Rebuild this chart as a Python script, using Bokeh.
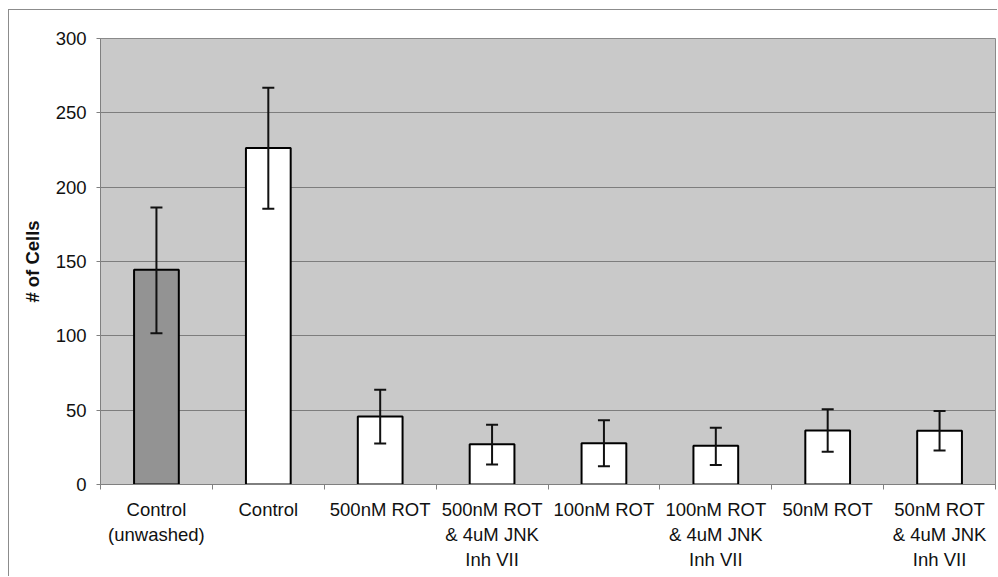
import numpy as np
from bokeh.plotting import figure
from bokeh.models import ColumnDataSource, Whisker, FixedTicker, TeeHead, Range1d
from bokeh.embed import file_html
from bokeh.resources import INLINE

categories = ["Control\n(unwashed)", "Control", "500nM ROT",
              "500nM ROT\n& 4uM JNK\nInh VII", "100nM ROT",
              "100nM ROT\n& 4uM JNK\nInh VII", "50nM ROT",
              "50nM ROT\n& 4uM JNK\nInh VII"]
cells = [144.5, 226.3, 45.8, 27.0, 27.8, 26.0, 36.4, 36.1]
err_upper = [186.3, 266.8, 63.8, 40.2, 43.2, 38.2, 50.6, 49.5]
err_lower = [101.8, 185.4, 27.6, 13.4, 12.3, 13.1, 22.1, 22.8]
bar_colors = ["#939393"] + ["#ffffff"] * 7
y_ticks = [0, 50, 100, 150, 200, 250, 300]

n = len(categories)
centers = [float(i) + 0.5 for i in range(n)]
bounds = [float(i) for i in range(n + 1)]

src = ColumnDataSource(dict(x=centers, top=cells, upper=err_upper,
                            lower=err_lower, color=bar_colors))

FONT = "Liberation Sans"
FS = "18.5px"

p = figure(width=989, height=567, output_backend="svg", toolbar_location=None,
           x_range=Range1d(0, n), y_range=Range1d(0, 300),
           min_border_left=91, min_border_right=3, min_border_top=28,
           min_border_bottom=93)
p.margin = (9, 0, 0, 8)
p.styles = {"border-left": "1px solid #8c8c8c", "border-top": "1px solid #8c8c8c"}

p.background_fill_color = "#c9c9c9"
p.border_fill_color = "white"
p.outline_line_color = "#8a8a8a"
p.outline_line_width = 1

p.vbar(x="x", top="top", width=0.4, bottom=0, source=src, fill_color="color",
       line_color="black", line_width=2)

w = Whisker(source=src, base="x", upper="upper", lower="lower",
            line_color="#111111", line_width=2, level="overlay",
            upper_head=TeeHead(size=12, line_width=2, line_color="#111111"),
            lower_head=TeeHead(size=12, line_width=2, line_color="#111111"))
p.add_layout(w)

# grid
p.xgrid.visible = False
p.ygrid.ticker = FixedTicker(ticks=y_ticks)
p.ygrid.grid_line_color = "#7d7d7d"
p.ygrid.grid_line_width = 1

# y axis
p.yaxis.ticker = FixedTicker(ticks=y_ticks)
p.yaxis.axis_label = "# of Cells"
p.yaxis.axis_label_text_font = FONT
p.yaxis.axis_label_text_font_style = "bold"
p.yaxis.axis_label_text_font_size = FS
p.yaxis.axis_label_text_color = "#111111"
p.yaxis.axis_label_standoff = 10
p.yaxis.major_label_text_font = FONT
p.yaxis.major_label_text_font_size = FS
p.yaxis.major_label_text_color = "#111111"
p.yaxis.major_label_standoff = 10
p.yaxis.axis_line_color = "#808080"
p.yaxis.major_tick_line_color = "#808080"
p.yaxis.major_tick_out = 4
p.yaxis.major_tick_in = 0
p.yaxis.minor_tick_line_color = None

# x axis
p.xaxis.ticker = FixedTicker(ticks=centers, minor_ticks=bounds)
p.xaxis.major_label_overrides = {c: lab for c, lab in zip(centers, categories)}
p.xaxis.major_label_text_font = FONT
p.xaxis.major_label_text_font_size = FS
p.xaxis.major_label_text_color = "#111111"
p.xaxis.major_label_standoff = 8
p.xaxis.axis_line_color = "#808080"
p.xaxis.major_tick_line_color = None
p.xaxis.minor_tick_line_color = "#808080"
p.xaxis.minor_tick_out = 5
p.xaxis.minor_tick_in = 0

open("out.html", "w").write(file_html(p, INLINE))
